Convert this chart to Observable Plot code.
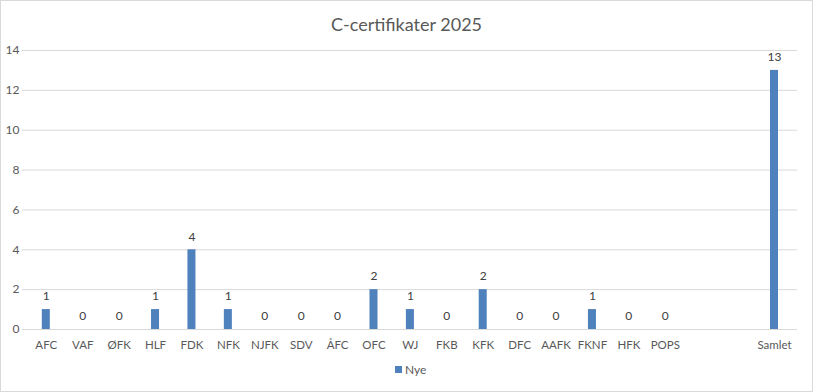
<!DOCTYPE html>
<html>
<head>
<meta charset="utf-8">
<script src="https://cdn.jsdelivr.net/npm/d3@7"></script>
<script src="https://cdn.jsdelivr.net/npm/@observablehq/plot@0.6"></script>
<style>
  html, body { margin: 0; padding: 0; background: #fff; }
  #chart { position: relative; width: 813px; height: 392px; overflow: hidden; font-family: Lato, "Open Sans", sans-serif; color: #595959; }
  #frame { position: absolute; left: 0; top: 0; width: 811px; height: 390px; border: 1px solid #d9d9d9; }
  #title { position: absolute; left: 0; width: 813px; top: 13px; text-align: center; font-size: 18px; color: #595959; }
  #plot { position: absolute; left: 0; top: 40px; }
  #legend { position: absolute; left: 395px; top: 362px; font-size: 12px; color: #595959; display: flex; align-items: center; }
  #legend .sw { width: 7px; height: 7px; background: #4f81bd; margin-right: 3px; }
</style>
</head>
<body>
<div id="chart">
  <div id="frame"></div>
  <div id="title">C-certifikater 2025</div>
  <div id="plot"></div>
  <div id="legend"><span class="sw"></span><span>Nye</span></div>
</div>
<script>
const categories = ["AFC","VAF","ØFK","HLF","FDK","NFK","NJFK","SDV","ÅFC","OFC","WJ","FKB","KFK","DFC","AAFK","FKNF","HFK","POPS"," ","  ","Samlet"];
const values =     [1,0,0,1,4,1,0,0,0,2,1,0,2,0,0,1,0,0,null,null,13];
const yTicks = [0,2,4,6,8,10,12,14];
const seriesName = "Nye";

const data = categories.map((c, i) => ({category: c, value: values[i]}));
const shown = data.filter(d => d.value != null);

const chart = Plot.plot({
  width: 813,
  height: 310,
  marginTop: 10,
  marginBottom: 21,
  marginLeft: 22,
  marginRight: 16,
  style: {fontFamily: "Lato, 'Open Sans', sans-serif", fontSize: "12px", color: "#595959", background: "transparent"},
  x: {domain: categories, range: [27.6, 792.2], paddingInner: 0.78, paddingOuter: 0.39, round: false, label: null},
  y: {domain: [0, 14], label: null},
  marks: [
    Plot.ruleY(yTicks, {stroke: "#d9d9d9", strokeWidth: 1}),
    Plot.axisY({ticks: yTicks, tickSize: 0, tickPadding: 3, label: null, fontSize: 12}),
    Plot.axisX({tickSize: 0, tickPadding: 11, label: null, fontSize: 11.5, tickFormat: d => d.trim()}),
    Plot.barY(shown, {x: "category", y: "value", fill: "#4f81bd"}),
    Plot.text(shown, {x: "category", y: "value", text: d => String(d.value), dy: -13, fill: "#404040", fontSize: 12})
  ]
});
document.getElementById("plot").appendChild(chart);
</script>
</body>
</html>
